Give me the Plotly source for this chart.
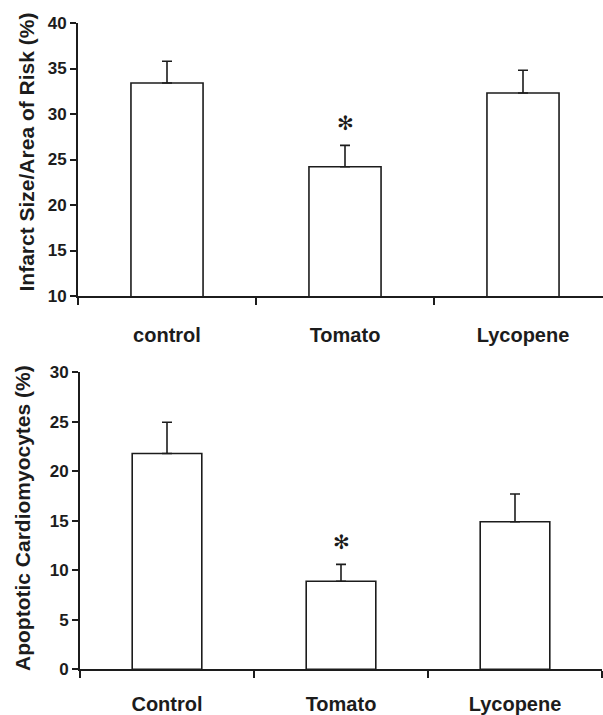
import plotly.graph_objects as go

# --- data ---
categories_top = ["control", "Tomato", "Lycopene"]
infarct_values = [33.4, 24.2, 32.3]
infarct_errors = [2.4, 2.35, 2.5]
infarct_sig = ["", "✻", ""]

categories_bottom = ["Control", "Tomato", "Lycopene"]
apoptotic_values = [21.8, 8.9, 14.9]
apoptotic_errors = [3.15, 1.7, 2.8]
apoptotic_sig = ["", "✻", ""]

W, H = 603, 715
INK = "#1c1c1c"
FONT = "Liberation Sans, Arial, sans-serif"

def px_x(p):
    return p / W

def px_y(p):
    return (H - p) / H

fig = go.Figure()

fig.add_trace(go.Bar(
    x=categories_top, y=infarct_values, width=0.405,
    marker=dict(color="white", line=dict(color=INK, width=1.6)),
    error_y=dict(type="data", symmetric=False, array=infarct_errors,
                 arrayminus=[0] * len(infarct_errors),
                 color=INK, thickness=1.6, width=5),
    xaxis="x", yaxis="y", showlegend=False, hoverinfo="skip",
))
fig.add_trace(go.Bar(
    x=categories_bottom, y=apoptotic_values, width=0.40,
    marker=dict(color="white", line=dict(color=INK, width=1.6)),
    error_y=dict(type="data", symmetric=False, array=apoptotic_errors,
                 arrayminus=[0] * len(apoptotic_errors),
                 color=INK, thickness=1.6, width=5),
    xaxis="x2", yaxis="y2", showlegend=False, hoverinfo="skip",
))

annotations = []
for cat, v, e, s in zip(categories_top, infarct_values, infarct_errors, infarct_sig):
    if s:
        annotations.append(dict(x=cat, y=v + e, xref="x", yref="y", text=s,
                                showarrow=False, yanchor="middle", yshift=22,
                                font=dict(family="DejaVu Sans", size=20, color=INK)))
for cat, v, e, s in zip(categories_bottom, apoptotic_values, apoptotic_errors, apoptotic_sig):
    if s:
        annotations.append(dict(x=cat, y=v + e, xref="x2", yref="y2", text=s,
                                showarrow=False, yanchor="middle", yshift=22,
                                font=dict(family="DejaVu Sans", size=20, color=INK)))

annotations.append(dict(x=px_x(26), y=px_y(152.5), xref="paper", yref="paper",
                        text="<b>Infarct Size/Area of Risk (%)</b>", textangle=-90,
                        showarrow=False, xanchor="center", yanchor="middle",
                        font=dict(family=FONT, size=21, color=INK)))
annotations.append(dict(x=px_x(22), y=px_y(518), xref="paper", yref="paper",
                        text="<b>Apoptotic Cardiomyocytes (%)</b>", textangle=-90,
                        showarrow=False, xanchor="center", yanchor="middle",
                        font=dict(family=FONT, size=21, color=INK)))

xcommon = dict(type="category", showline=True, linecolor=INK, linewidth=2,
               ticks="outside", tickson="boundaries", ticklen=7, tickwidth=2,
               tickcolor=INK, showgrid=False, zeroline=False, automargin=False,
               tickfont=dict(family=FONT, size=20, color=INK),
               ticklabelstandoff=20, fixedrange=True)
ycommon = dict(showline=True, linecolor=INK, linewidth=2, ticks="outside",
               ticklen=6, tickwidth=2, tickcolor=INK, showgrid=False,
               zeroline=False, automargin=False,
               tickfont=dict(family=FONT, size=17, color=INK),
               tickprefix="<b>", ticksuffix="</b>", dtick=5, fixedrange=True)

fig.update_layout(
    width=W, height=H,
    margin=dict(l=0, r=0, t=0, b=0, autoexpand=False),
    paper_bgcolor="white", plot_bgcolor="white",
    font=dict(family=FONT, color=INK),
    xaxis=dict(xcommon, domain=[px_x(78), 1.0], range=[-0.5, -0.5 + (W - 78) / 178.0],
               anchor="y", tickvals=categories_top,
               ticktext=["<b>%s</b>" % c for c in categories_top]),
    yaxis=dict(ycommon, domain=[px_y(296), px_y(23)], range=[10, 40], anchor="x"),
    xaxis2=dict(xcommon, domain=[px_x(80), px_x(602)], range=[-0.5, 2.5],
                anchor="y2", tickvals=categories_bottom,
                ticktext=["<b>%s</b>" % c for c in categories_bottom],
                ticklabelstandoff=16),
    yaxis2=dict(ycommon, domain=[px_y(669.3), px_y(372.3)], range=[0, 30], anchor="x2"),
    annotations=annotations,
    bargap=0.6,
    hovermode=False,
)

post = (
    "document.body.style.margin='0';"
    "document.body.style.overflow='hidden';"
    "var d=document.getElementById('{plot_id}');"
    "d.style.position='fixed';d.style.top='0px';d.style.left='0px';"
)

fig.write_html("out.html", config={"displayModeBar": False, "staticPlot": True},
               post_script=post)
